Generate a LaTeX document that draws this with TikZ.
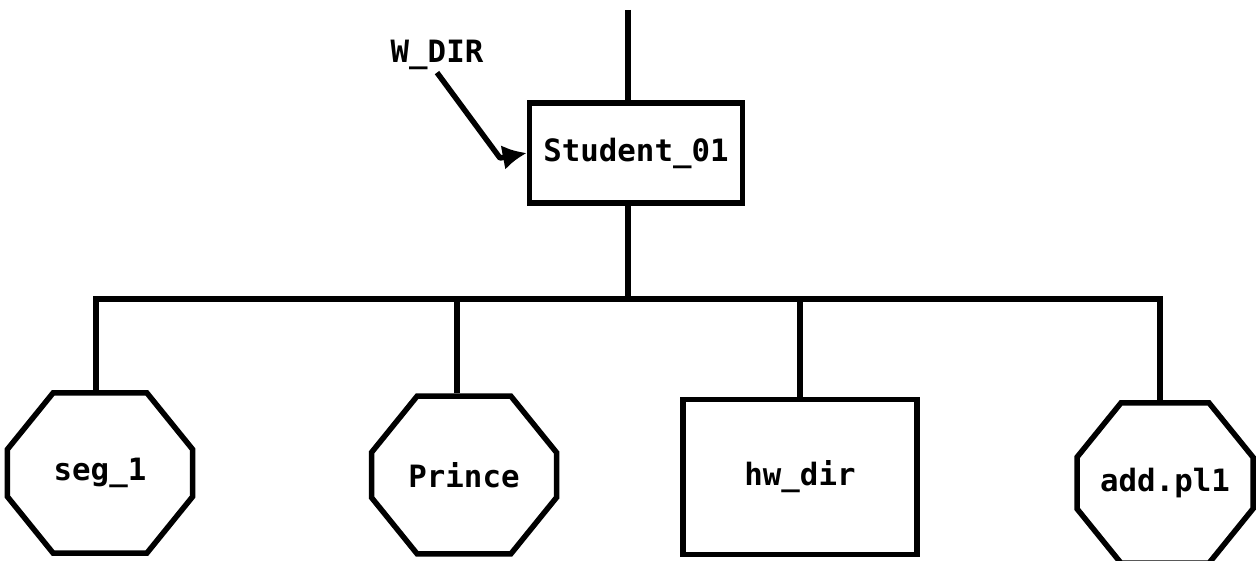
\documentclass[tikz,border=0pt]{standalone}
\usepackage{fontspec}
\setmonofont{DejaVu Sans Mono}
\usetikzlibrary{shapes.misc,arrows.meta}
\tikzset{
  lbl/.style={font=\ttfamily\bfseries\fontsize{17.5}{20}\selectfont,inner sep=0pt},
  dirbox/.style={lbl,draw},
  filebox/.style={dirbox,chamfered rectangle,chamfered rectangle angle=39,chamfered rectangle ysep=10mm}
}

\begin{document}
\begin{tikzpicture}[x=0.2mm,y=-0.2mm,line width=1.1mm]
        \useasboundingbox (0,0) rectangle (1258,561);
        \coordinate(T) at (628,10);
        \coordinate(B) at (628,299);
        \coordinate(K) at (500,158);
        \node[dirbox,minimum width=42.6mm,minimum height=20mm] (stud) at (636,153) {Student\_01};
        \node[lbl] (wdir) at (437,55) {W\_DIR};
        \node[filebox,minimum width=37mm,minimum height=32mm] (seg) at (100,473) {seg\_1};
        \node[filebox,minimum width=37mm,minimum height=31.5mm] (prince) at (464,475) {Prince};
        \node[dirbox,minimum width=46.8mm,minimum height=31mm] (hw) at (800,477) {hw\_dir};
        \node[filebox,minimum width=35.2mm,minimum height=32mm,chamfered rectangle ysep=9.6mm] (add) at (1165,483) {add.pl1};
        % tree lines
        \draw (T) -- (T |- stud.north);
        \draw (B |- stud.south) -- (B);
        \draw ([xshift=-0.8mm]seg.north) |- (B) -| ([xshift=-1mm]add.north);
        \draw ([xshift=-1.4mm]prince.north) -- ([xshift=-1.4mm]prince.north |- B);
        \draw (hw.north) -- (hw.north |- B);
        % working directory pointer
        \draw[line join=round,-{Latex[length=4.8mm,width=5mm]}] (wdir.south) -- (K) -- (stud.west);
    \end{tikzpicture}
\end{document}
